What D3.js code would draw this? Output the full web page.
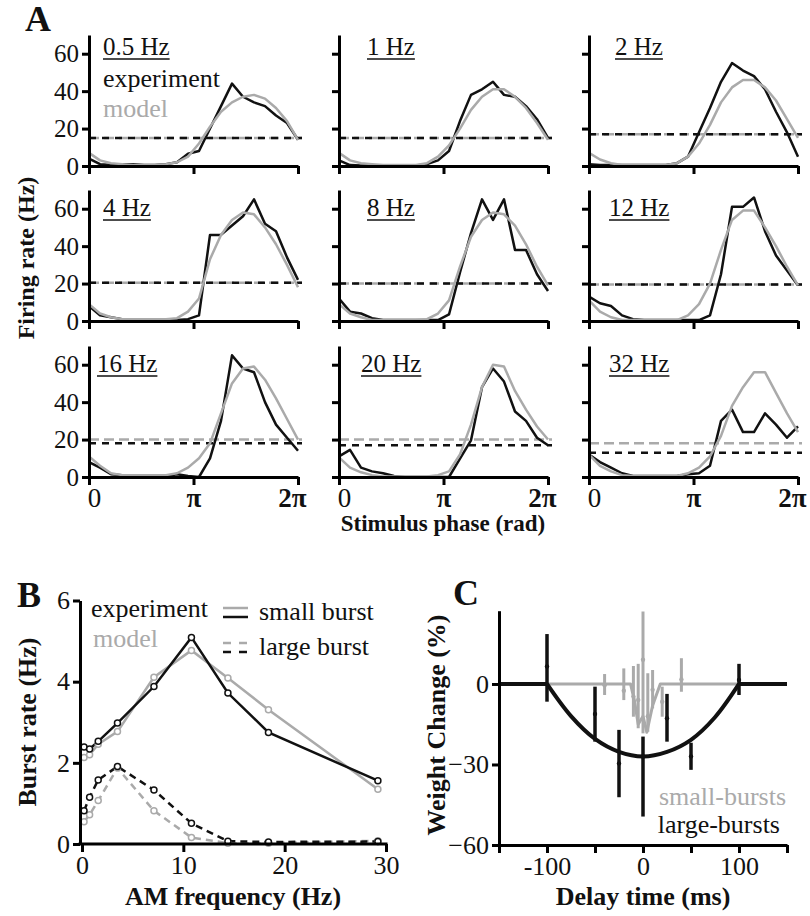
<!DOCTYPE html>
<html><head><meta charset="utf-8">
<script src="https://cdn.jsdelivr.net/npm/d3@7"></script>
<style>body{margin:0;background:#fff}</style>
</head><body><svg id="c" width="810" height="916" xmlns="http://www.w3.org/2000/svg"></svg>
<script>
// ---------------- DATA ----------------
// Panel A
const freqLabels = ["0.5 Hz","1 Hz","2 Hz","4 Hz","8 Hz","12 Hz","16 Hz","20 Hz","32 Hz"];
const phaseTicks = [0, Math.PI, 2*Math.PI];
const phaseTickLabels = ["0","π","2π"];
const rateTicks = [0,20,40,60];
const phaseBins = d3.range(20).map(k => k*2*Math.PI/19); // 20 phase bins from 0 to 2π
const expRates = [
  [4,1,0.5,1,1,0.5,0.5,1,2,6.5,8,20,32,44,37,34,32,27,23,14],
  [3,0.5,0.3,0.3,0.3,0.3,0.3,0.3,1,3,8,24,38,41,45,38,37,32,25,15],
  [1,0.5,0.5,0.5,0.5,0.5,0.5,0.5,1.5,5,18,31,45,55,51,48,41,29,18,5],
  [8,3,2,1,0.5,0.5,0.5,0.5,0.5,1,3,46,46,51,56,65,52,48,34,22],
  [12,5,4,1.5,0.5,0.5,0.5,0.5,0.5,0.5,3.5,26,47,65,54,65,38,38,25,16],
  [13,9.5,8,3,1,0.5,0.5,0.5,0.5,0.5,0.5,3,25,61,61,66,48,35,27,19],
  [8,5,1.5,1,0.5,0.5,0.5,0.5,1.5,0.5,0,10,30,65,58,56,40,28,21,14],
  [11,14.5,5,3,2,0.5,0,0,0,0,0,9.8,19.6,48,58,51,35,30,21,17],
  [12,8,5,2,0.5,0.5,0.5,0.5,0.5,1.5,2,6,30,36,24,24,34,28,21,27]
];
const modelRates = [
  [7,3,1.5,1,0.5,0.5,0.5,1,2,5,12,21,29,34,37,38,36,31,24,14],
  [7,3,1.5,1,0.5,0.5,0.5,0.5,1.5,5,11,20,30,37,41,41,37,31,23,14],
  [7,3.5,1.5,0.5,0.5,0.5,0.5,0.5,1.5,5,12,22,34,42,46,46,42,35,25,15],
  [9,4,2,1,1,1,1,1,1.5,5,12,33,46,54,58,57,50,41,30,18],
  [9,4,2,0.5,0.5,0.5,0.5,0.5,1,4,11,29,45,54,58,57,51,41,29,19],
  [11,5,2,0.5,0.5,0.5,0.5,0.5,0.5,3,9,20,38,54,59,59,50,40,29,19],
  [11,6,2,1,1,1,1,1,2,5,10,18,34,50,58,59,52,42,31,20],
  [10.5,5,2.5,1,0.3,0.3,0.3,0.3,0.3,1,3,12,28,48,60,59,46,36,27,20],
  [12,6,3,1,0.5,0.5,0.5,0.5,0.5,2,5,11,22,38,48,56,56,45,34,24]
];
const expMean   = [15,15,17,20.5,20,19.5,18,17,13];
const modelMean = [15,15,17,20.5,20,19.5,20,20,18];

// Panel B
const amFreq     = [0.2,0.75,1.6,3.5,7.1,10.8,14.4,18.4,29.2];
const expSmall   = [2.39,2.34,2.53,2.98,3.88,5.09,3.72,2.75,1.56];
const modelSmall = [2.13,2.2,2.46,2.77,4.11,4.77,4.09,3.31,1.35];
const expLarge   = [0.82,1.15,1.58,1.91,1.33,0.51,0.07,0.05,0.06];
const modelLarge = [0.55,0.72,1.07,1.87,0.82,0.16,0.02,0.02,0.08];
const burstTicksY = [0,2,4,6];
const burstTicksX = [0,10,20,30];

// Panel C
const delayTicks = [-150,-100,-50,0,50,100,150];
const delayTickLabels = {"-100":"-100","0":"0","100":"100"};
const weightTicks = [-60,-30,0];
const fitDelay  = [-100,-75,-50,-25,0,25,50,75,100];
const fitWeight = [0,-12,-20.5,-25.3,-27,-25.3,-20.8,-12.4,0];
const flatDelayL = [-150,-100], flatDelayR = [100,150];
const smallDelay  = [-100,-13,-9,-5,0,4,10,18,100];
const smallWeight = [0,0,-6,-15,-12,-18,-8,0,0];
const smallBarX    = [-40,-20,-10,-5,0,5,10,20,40];
const smallBarHi   = [3.7,5.8,6.7,7.5,27,4,5.2,-1,9.6];
const smallBarLo   = [-4.1,-6,-12.2,-16.5,-18.4,-17.8,-9.1,-12.2,-2.9];
const smallBarMean = [-0.5,-2.5,-4.7,-6,9,-12,-2.2,-6.6,1.7];
const largeBarX    = [-100,-50,-25,0,25,50,100];
const largeBarHi   = [18.6,-1,-17.1,-19.6,-3.7,-21.9,7.5];
const largeBarLo   = [-6.6,-21.5,-42.2,-49.4,-21.5,-32,-4.1];
const largeBarMean = [6.5,-11.2,-29.6,-27,-12.8,-27,1.5];

// ---------------- DRAW ----------------
const FONT = '"Liberation Serif"';
const GRAY = "#aaaaaa";
const svg = d3.select("#c");
svg.append("rect").attr("width",810).attr("height",916).attr("fill","#fff");

function styleAxis(g, fs){
  g.attr("font-family",null).attr("font-size",null);
  g.select(".domain").attr("stroke","#000").attr("stroke-width",3);
  g.selectAll(".tick line").attr("stroke","#000").attr("stroke-width",3);
  g.selectAll(".tick text").style("font-family",FONT).style("font-size",fs+"px").attr("fill","#111");
}
function txt(x,y,s,opts={}){
  const t = svg.append("text").attr("x",x).attr("y",y).text(s)
    .style("font-family",FONT).style("font-size",(opts.size||24)+"px")
    .style("font-weight",opts.bold?"bold":"normal")
    .attr("fill",opts.fill||"#111")
    .attr("text-anchor",opts.anchor||"start");
  if(opts.rotate) t.attr("transform",`rotate(${opts.rotate},${x},${y})`);
  return t;
}

// Panel A
const colX = [[89,298],[339,548],[589,798]];
const rowY0 = [166,321,477];
const titlePos = [[103,55],[367,55],[615,55],[103,216],[367,216],[609,216],[97,372],[361,372],[609,372]];
freqLabels.forEach((lab,i)=>{
  const r = Math.floor(i/3), c = i%3;
  const x = d3.scaleLinear([0,2*Math.PI], colX[c]);
  const y = d3.scaleLinear([0,70],[rowY0[r], rowY0[r]-131]);
  const g = svg.append("g");
  const x2 = colX[c][1]+4;
  g.append("line").attr("x1",colX[c][0]).attr("x2",x2)
    .attr("y1",y(modelMean[i])).attr("y2",y(modelMean[i]))
    .attr("stroke",GRAY).attr("stroke-width",2.5).attr("stroke-dasharray","10,5");
  g.append("line").attr("x1",colX[c][0]).attr("x2",x2)
    .attr("y1",y(expMean[i])).attr("y2",y(expMean[i]))
    .attr("stroke","#111").attr("stroke-width",2.5).attr("stroke-dasharray","7,6");
  const line = d3.line().x((d,k)=>x(phaseBins[k])).y(d=>y(d));
  g.append("path").attr("d",line(expRates[i])).attr("fill","none")
    .attr("stroke","#111").attr("stroke-width",2.5).attr("stroke-linejoin","round");
  g.append("path").attr("d",line(modelRates[i])).attr("fill","none")
    .attr("stroke",GRAY).attr("stroke-width",2.5).attr("stroke-linejoin","round");
  const ya = g.append("g").attr("transform",`translate(${colX[c][0]},0)`)
    .call(d3.axisLeft(y).tickValues(rateTicks).tickSize(7).tickSizeOuter(0).tickPadding(3)
      .tickFormat(c===0 ? d3.format("d") : ""));
  styleAxis(ya,25);
  const xa = g.append("g").attr("transform",`translate(0,${rowY0[r]})`)
    .call(d3.axisBottom(x).tickValues(phaseTicks).tickSize(8).tickSizeOuter(0).tickPadding(3)
      .tickFormat(r===2 ? ((d,k)=>phaseTickLabels[k]) : ""));
  styleAxis(xa,27);
  xa.selectAll(".tick text").attr("dx",(d,k)=>[5,0,-6][k]).style("font-weight",(d,k)=>k>0?"bold":"normal");
  const t = txt(titlePos[i][0], titlePos[i][1], lab, {size:25});
  const w = t.node().getComputedTextLength();
  svg.append("line").attr("x1",titlePos[i][0]).attr("x2",titlePos[i][0]+w)
    .attr("y1",titlePos[i][1]+4).attr("y2",titlePos[i][1]+4).attr("stroke","#111").attr("stroke-width",1.3);
});
txt(103,87,"experiment",{size:26});
txt(103,117,"model",{size:26,fill:GRAY});
txt(25,31,"A",{size:36,bold:true});
txt(443,531,"Stimulus phase (rad)",{size:23,bold:true,anchor:"middle"});
txt(34,258,"Firing rate (Hz)",{size:24,bold:true,anchor:"middle",rotate:-90});

// Panel B
const xB = d3.scaleLinear([0,30],[82,386]);
const yB = d3.scaleLinear([0,6],[844,600.5]);
const lineB = d3.line().x((d,k)=>xB(amFreq[k])).y(d=>yB(d));
const seriesB = [
  {v:modelLarge, c:GRAY, dash:"7,5"},
  {v:expLarge, c:"#111", dash:"7,5"},
  {v:modelSmall, c:GRAY, dash:null},
  {v:expSmall, c:"#111", dash:null}
];
seriesB.forEach(s=>{
  svg.append("path").attr("d",lineB(s.v)).attr("fill","none").attr("stroke",s.c)
    .attr("stroke-width",2.5).attr("stroke-dasharray",s.dash);
});
seriesB.forEach(s=>{
  svg.append("g").selectAll("circle").data(s.v).join("circle")
    .attr("cx",(d,k)=>xB(amFreq[k])).attr("cy",d=>yB(d)).attr("r",3)
    .attr("fill","#fff").attr("stroke",s.c).attr("stroke-width",1.5);
});
const yaB = svg.append("g").attr("transform",`translate(${xB(0)-2},0)`)
  .call(d3.axisLeft(yB).tickValues(burstTicksY).tickSize(7).tickSizeOuter(0).tickPadding(3).tickFormat(d3.format("d")));
styleAxis(yaB,26);
const xaB = svg.append("g").attr("transform",`translate(0,${yB(0)})`)
  .call(d3.axisBottom(xB).tickValues(burstTicksX).tickSize(8).tickSizeOuter(0).tickPadding(4).tickFormat(d3.format("d")));
styleAxis(xaB,26);
xaB.select(".domain").attr("d",`M${xB(0)-3.5},0H${xB(30)+1.5}`);
txt(91,617,"experiment",{size:26});
txt(93,647,"model",{size:26,fill:GRAY});
svg.append("line").attr("x1",223).attr("x2",248).attr("y1",608).attr("y2",608).attr("stroke",GRAY).attr("stroke-width",2.5);
svg.append("line").attr("x1",223).attr("x2",248).attr("y1",617).attr("y2",617).attr("stroke","#111").attr("stroke-width",2.5);
svg.append("line").attr("x1",223).attr("x2",248).attr("y1",643).attr("y2",643).attr("stroke",GRAY).attr("stroke-width",2.5).attr("stroke-dasharray","8,8");
svg.append("line").attr("x1",223).attr("x2",248).attr("y1",652).attr("y2",652).attr("stroke","#111").attr("stroke-width",2.5).attr("stroke-dasharray","8,8");
txt(259,620,"small burst",{size:26});
txt(259,655,"large burst",{size:26});
txt(17,607,"B",{size:36,bold:true});
txt(36,722,"Burst rate (Hz)",{size:26,bold:true,anchor:"middle",rotate:-90});
txt(233,905,"AM frequency (Hz)",{size:26,bold:true,anchor:"middle"});

// Panel C
const xC = d3.scaleLinear([-150,150],[499,787]);
const yC = d3.scaleLinear([-60,27.3],[845,610.7]);
svg.append("path").attr("d",d3.line().x((d,k)=>xC(smallDelay[k])).y(d=>yC(d))(smallWeight))
  .attr("fill","none").attr("stroke",GRAY).attr("stroke-width",3).attr("stroke-linejoin","round");
smallBarX.forEach((dx,k)=>{
  svg.append("line").attr("x1",xC(dx)).attr("x2",xC(dx)).attr("y1",yC(smallBarHi[k])).attr("y2",yC(smallBarLo[k]))
    .attr("stroke",GRAY).attr("stroke-width",3);
  svg.append("circle").attr("cx",xC(dx)).attr("cy",yC(smallBarMean[k])).attr("r",2.2).attr("fill",GRAY);
});
const flat = d3.line().x(d=>xC(d)).y(()=>yC(0));
[flatDelayL,flatDelayR].forEach(a=>svg.append("path").attr("d",flat(a)).attr("stroke","#111").attr("stroke-width",4).attr("fill","none"));
svg.append("path").attr("d",d3.line().curve(d3.curveCatmullRom).x((d,k)=>xC(fitDelay[k])).y(d=>yC(d))(fitWeight))
  .attr("fill","none").attr("stroke","#111").attr("stroke-width",4);
largeBarX.forEach((dx,k)=>{
  svg.append("line").attr("x1",xC(dx)).attr("x2",xC(dx)).attr("y1",yC(largeBarHi[k])).attr("y2",yC(largeBarLo[k]))
    .attr("stroke","#111").attr("stroke-width",3.5);
  svg.append("circle").attr("cx",xC(dx)).attr("cy",yC(largeBarMean[k])).attr("r",2.2).attr("fill","#111");
});
const yaC = svg.append("g").attr("transform",`translate(${xC(-150)},0)`)
  .call(d3.axisLeft(yC).tickValues(weightTicks).tickSize(7).tickSizeOuter(0).tickPadding(3).tickFormat(d3.format("d")));
styleAxis(yaC,26);
const xaC = svg.append("g").attr("transform",`translate(0,${yC(-60)})`)
  .call(d3.axisBottom(xC).tickValues(delayTicks).tickSize(8).tickSizeOuter(0).tickPadding(4)
    .tickFormat(d=>delayTickLabels[String(d)]||""));
styleAxis(xaC,26);
txt(786,805,"small-bursts",{size:26,fill:GRAY,anchor:"end"});
txt(780,833,"large-bursts",{size:26,anchor:"end"});
txt(453,605,"C",{size:36,bold:true});
txt(445,725,"Weight Change (%)",{size:26,bold:true,anchor:"middle",rotate:-90});
txt(643,905,"Delay time (ms)",{size:26,bold:true,anchor:"middle"});
</script></body></html>
